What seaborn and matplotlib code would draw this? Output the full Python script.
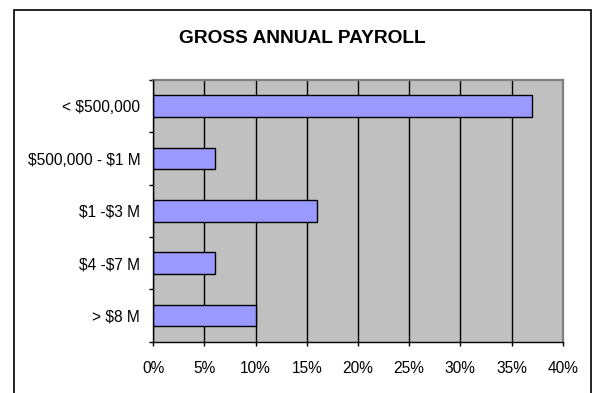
import matplotlib
matplotlib.use("Agg")
import matplotlib.pyplot as plt
from matplotlib.patches import Rectangle
from matplotlib.ticker import FixedLocator, FuncFormatter
import seaborn as sns

# Share of firms by gross annual payroll (percent)
categories = ["< $500,000", "$500,000 - $1 M", "$1 -$3 M", "$4 -$7 M", "> $8 M"]
shares = [37, 6, 16, 6, 10]
x_ticks = [0, 5, 10, 15, 20, 25, 30, 35, 40]
title = "GROSS ANNUAL PAYROLL"

sns.set_style("white")
plt.rcParams["font.family"] = ["Liberation Sans", "DejaVu Sans"]
plt.rcParams["text.parse_math"] = False
plt.rcParams["text.color"] = "black"
plt.rcParams["xtick.color"] = "black"
plt.rcParams["ytick.color"] = "black"

fig = plt.figure(figsize=(6.0, 3.93), dpi=100)
ax = fig.add_axes([0.2555, 0.1305, 0.9378 - 0.2555, 0.7964 - 0.1305])

ax.set_facecolor("#C0C0C0")
sns.barplot(x=shares, y=categories, orient="h", color="#9999FF", saturation=1,
            edgecolor="black", linewidth=1.0, width=0.41, ax=ax)

ax.set_xlim(0, 40)
ax.set_ylim(4.5, -0.5)
ax.xaxis.set_major_locator(FixedLocator(x_ticks))
ax.xaxis.set_major_formatter(FuncFormatter(lambda v, _: f"{v:.0f}%"))
ax.set_axisbelow(True)
ax.xaxis.grid(True, color="black", linewidth=1.0)
ax.yaxis.grid(False)
ax.set_xlabel("")
ax.set_ylabel("")

# Category boundaries carry the tick marks; labels sit at the centres
ax.yaxis.set_minor_locator(FixedLocator([-0.5, 0.5, 1.5, 2.5, 3.5, 4.5]))
ax.tick_params(axis="y", which="major", length=0, pad=9.4, labelsize=11.2, labelcolor="black")
ax.tick_params(axis="y", which="minor", length=3, width=1, color="black", direction="out", left=True)
ax.tick_params(axis="x", which="major", length=3, width=1, color="black", direction="out",
               bottom=True, pad=11.0, labelsize=11.2, labelcolor="black")

for side in ("left", "bottom"):
    ax.spines[side].set_color("black")
    ax.spines[side].set_linewidth(1.0)
for side in ("top", "right"):
    ax.spines[side].set_color("#808080")
    ax.spines[side].set_linewidth(1.6)
ax.spines["left"].set_zorder(5)
ax.spines["bottom"].set_zorder(5)

fig.text(0.504, 0.902, title, ha="center", va="center", fontsize=13.8,
         fontweight="bold", color="black")

# Chart frame running off the lower edge
frame = Rectangle((0.0225, -0.2), 0.985 - 0.0225, 0.9758 + 0.2, transform=fig.transFigure,
                  fill=False, edgecolor="black", linewidth=1.2, clip_on=False)
fig.patches.append(frame)

fig.savefig("out.png", dpi=100)
